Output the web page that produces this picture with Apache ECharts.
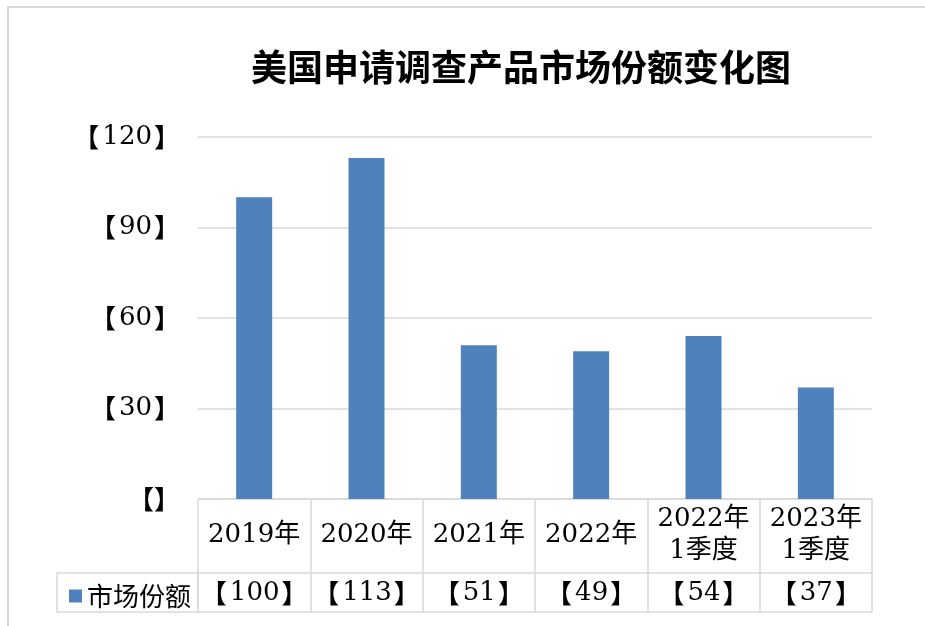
<!DOCTYPE html>
<html>
<head>
<meta charset="utf-8">
<script src="https://cdn.jsdelivr.net/npm/echarts@6/dist/echarts.min.js"></script>
<style>
html,body{margin:0;padding:0;background:#fff;}
#chart{width:925px;height:626px;}
</style>
</head>
<body>
<div id="chart"></div>
<script>
const titleText = '美国申请调查产品市场份额变化图';
const seriesName = '市场份额';
const categories = ['2019年', '2020年', '2021年', '2022年', '2022年\n1季度', '2023年\n1季度'];
const values = [100, 113, 51, 49, 54, 37];
const yTicks = [0, 30, 60, 90, 120];

const FONT = "'DejaVu Serif', 'Noto Sans CJK SC', serif";
const LINE = '#d9d9d9';
const chart = echarts.init(document.getElementById('chart'));

const gridLeft = 198, gridRight = 53, gridTop = 137, gridBottom = 127;
const rowH1 = 74, rowH2 = 39;

const bracketRich = {
  b: { fontFamily: "'Noto Sans CJK SC', sans-serif", fontWeight: 'bold', fontSize: 26, color: '#000' },
  n: { fontFamily: FONT, fontSize: 26, color: '#000', padding: [0, 2, 0, 3] }
};

chart.setOption({
  backgroundColor: '#fff',
  animation: false,
  title: {
    text: titleText,
    left: 516,
    top: 44,
    textAlign: 'center',
    textStyle: { fontFamily: "'Noto Sans CJK SC', sans-serif", fontWeight: 'bold', fontSize: 36, color: '#000' }
  },
  legend: {
    data: [seriesName],
    left: 64,
    top: 578,
    icon: 'rect',
    itemWidth: 13,
    itemHeight: 13,
    textStyle: { fontFamily: "'Noto Sans CJK SC', sans-serif", fontSize: 26, color: '#000' }
  },
  grid: { left: gridLeft, right: gridRight, top: gridTop, bottom: gridBottom, containLabel: false },
  xAxis: [
    {
      type: 'category',
      data: categories,
      position: 'bottom',
      boundaryGap: true,
      axisLine: { show: true, lineStyle: { color: LINE, width: 1.5 } },
      axisTick: { show: true, alignWithLabel: false, length: rowH1 + rowH2, lineStyle: { color: LINE, width: 1.5 } },
      axisLabel: {
        interval: 0,
        margin: 36,
        verticalAlign: 'middle',
        lineHeight: 32,
        fontFamily: FONT,
        fontSize: 26,
        color: '#000'
      }
    },
    {
      type: 'category',
      data: values.map(v => String(v)),
      position: 'bottom',
      offset: rowH1,
      axisLine: { show: true, lineStyle: { color: LINE, width: 1.5 } },
      axisTick: { show: false },
      axisLabel: {
        interval: 0,
        margin: 20,
        verticalAlign: 'middle',
        formatter: v => '{b|【}{n|' + v + '}{b|】}',
        rich: bracketRich
      }
    },
    {
      type: 'category',
      data: categories,
      position: 'bottom',
      offset: rowH1 + rowH2,
      axisLine: { show: true, lineStyle: { color: LINE, width: 1.5 } },
      axisTick: { show: false },
      axisLabel: { show: false }
    }
  ],
  yAxis: {
    type: 'value',
    min: 0,
    max: 120,
    interval: 30,
    axisLine: { show: false },
    axisTick: { show: false },
    splitLine: { lineStyle: { color: LINE, width: 1.5 } },
    axisLabel: {
      margin: 18,
      formatter: v => (yTicks.indexOf(v) >= 0 && v !== 0) ? '{b|【}{n|' + v + '}{b|】}' : '{b|【】}',
      rich: bracketRich
    }
  },
  series: [{
    name: seriesName,
    type: 'bar',
    xAxisIndex: 0,
    data: values,
    barWidth: 36,
    itemStyle: { color: '#4f81bd' }
  }],
  graphic: [
    {
      type: 'rect',
      silent: true,
      shape: { x: 8, y: 7, width: 1000, height: 700 },
      style: { fill: 'none', stroke: LINE, lineWidth: 2 }
    },
    {
      type: 'rect',
      silent: true,
      shape: { x: 57, y: 626 - gridBottom + rowH1, width: gridLeft - 57, height: rowH2 },
      style: { fill: 'none', stroke: LINE, lineWidth: 1.5 }
    }
  ]
});
</script>
</body>
</html>
